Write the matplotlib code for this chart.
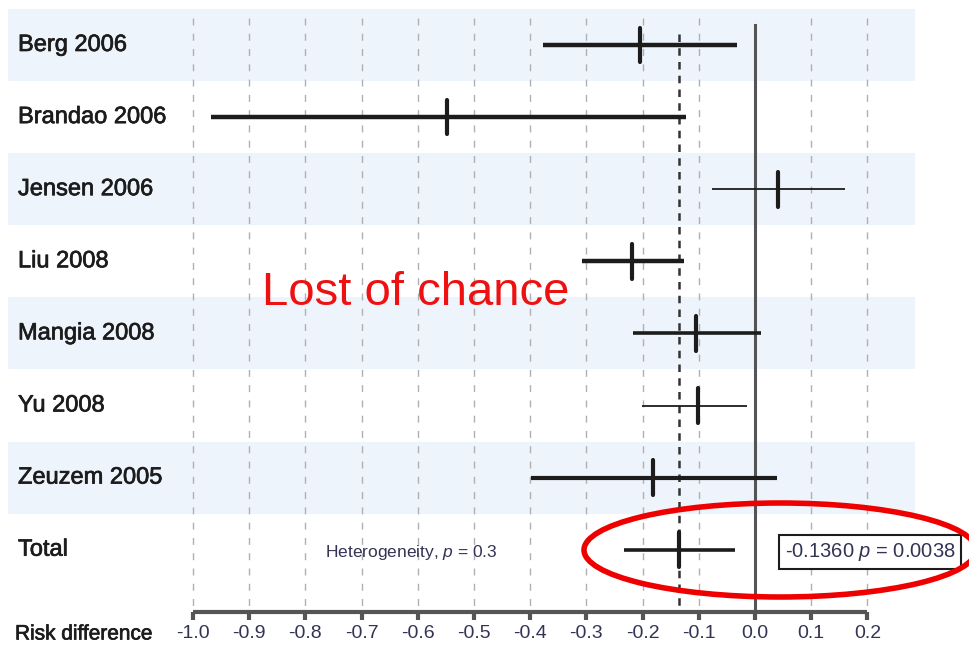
#!/usr/bin/env python3

# Forest plot of risk differences per study, with pooled total.

import matplotlib
matplotlib.use("Agg")
from matplotlib import pyplot as plt
from matplotlib.patches import Ellipse, Rectangle
import matplotlib.patheffects as pe
import numpy as np

studies = ["Berg 2006", "Brandao 2006", "Jensen 2006", "Liu 2008",
           "Mangia 2008", "Yu 2008", "Zeuzem 2005", "Total"]
estimate = [-0.205, -0.548, 0.041, -0.219, -0.105, -0.101, -0.181, -0.136]
ci_low = [-0.377, -0.968, -0.077, -0.308, -0.217, -0.201, -0.399, -0.233]
ci_high = [-0.032, -0.123, 0.160, -0.126, 0.011, -0.014, 0.039, -0.036]
weight_lw = [3.2, 3.2, 1.3, 3.2, 2.6, 1.3, 3.0, 2.6]

ticks = [-1.0, -0.9, -0.8, -0.7, -0.6, -0.5, -0.4, -0.3, -0.2, -0.1, 0.0, 0.1, 0.2]
tick_labels = ["-1.0", "-0.9", "-0.8", "-0.7", "-0.6", "-0.5", "-0.4",
               "-0.3", "-0.2", "-0.1", "0.0", "0.1", "0.2"]
pooled = -0.136
pooled_text = "-0.1360 $p$ = 0.0038"
het_text = "Heterogeneity, $p$ = 0.3"

plt.rcParams["font.family"] = ["Liberation Sans", "DejaVu Sans"]
plt.rcParams["mathtext.fontset"] = "custom"
plt.rcParams["mathtext.it"] = "Liberation Sans:italic"
plt.rcParams["mathtext.rm"] = "Liberation Sans"

fig = plt.figure(figsize=(9.7, 6.62), dpi=100)
ax = fig.add_axes([0, 0, 1, 1])

# pixel -> data mapping: x = (px - 755) / 562, row = (py - 45) / 72.1
px0, sx = 755.0, 562.0
py0, sy = 45.0, 72.1
ax.set_xlim((0 - px0) / sx, (970 - px0) / sx)
ax.set_ylim((662 - py0) / sy, (0 - py0) / sy)
ax.axis("off")

ink = "#1c1c1c"
rows = np.arange(len(studies))
# slightly heavier text, like the blurred original
heavy = [pe.withStroke(linewidth=0.5, foreground=ink)]

# shaded bands on alternate rows
for i in rows[:-1:2]:
    ax.add_patch(Rectangle(((8 - px0) / sx, i - 0.5), (915 - 8) / sx, 1.0,
                           facecolor="#eef4fb", edgecolor="none", zorder=0))

# grid lines
for t in ticks:
    if t == 0.0:
        continue
    ax.plot([t, t], [-0.38, 7.82], color="#b0b0b0", lw=1.0,
            ls=(0, (5, 6)), zorder=1)
ax.plot([0, 0], [-0.28, 7.84], color="#555555", lw=2.2, zorder=2)
ax.plot([pooled, pooled], [-0.15, 7.8], color="#333333", lw=1.8,
        ls=(0, (3, 2.5)), zorder=2)

# intervals and point estimates
for i in rows:
    ax.plot([ci_low[i], ci_high[i]], [i, i], color=ink, lw=weight_lw[i],
            solid_capstyle="butt", zorder=3)
    ax.plot([estimate[i], estimate[i]], [i - 0.24, i + 0.24], color=ink,
            lw=3.0, solid_capstyle="round", zorder=4)

for i, name in enumerate(studies):
    ax.text((18 - px0) / sx, i, name, fontsize=17, color=ink,
            va="center", ha="left", path_effects=heavy)

# x axis
ax_y = (612 - py0) / sy
ax.plot([ticks[0], ticks[-1]], [ax_y, ax_y], color="#555555", lw=3, zorder=3,
        solid_capstyle="butt")
for t, lab in zip(ticks, tick_labels):
    ax.plot([t, t], [ax_y, ax_y + 0.11], color="#555555", lw=3, zorder=3,
            solid_capstyle="butt")
    ax.text(t, (634 - py0) / sy, lab, fontsize=14, color="#333355",
            ha="center", va="center")
ax.text((15 - px0) / sx, (634 - py0) / sy, "Risk difference", fontsize=15,
        color=ink, ha="left", va="center", path_effects=heavy)

ax.text((325 - px0) / sx, (553 - py0) / sy, het_text, fontsize=12.5,
        color="#333355", ha="left", va="center")
ax.text((870 - px0) / sx, (552 - py0) / sy, pooled_text, fontsize=14.5,
        color="#333355", ha="center", va="center",
        bbox=dict(boxstyle="square,pad=0.3", facecolor="white",
                  edgecolor=ink, lw=1.5))

ax.text((262 - px0) / sx, (293 - py0) / sy, "Lost of chance", fontsize=34,
        color="#ee1111", ha="left", va="center")

ax.add_patch(Ellipse(((780 - px0) / sx, (550 - py0) / sy), 392 / sx, 94 / sy,
                     facecolor="none", edgecolor="#ee0000", lw=4, zorder=5))

plt.savefig("out.png", dpi=100)
plt.close()
